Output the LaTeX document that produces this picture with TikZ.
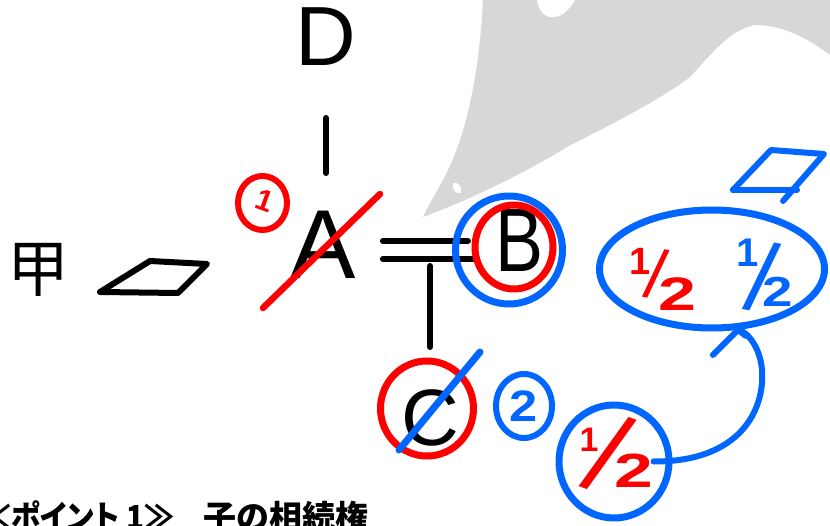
\documentclass[tikz,border=0pt]{standalone}
\usepackage{fontspec}
\setmainfont{Liberation Sans}
\newfontfamily\cjk{Noto Sans CJK JP}
\newfontfamily\cjkp{Noto Sans CJK JP}[RawFeature=+palt]
\usepackage{graphicx}
\usetikzlibrary{arrows.meta,shapes.geometric,calc}
\definecolor{penred}{RGB}{255,0,0}
\definecolor{penblue}{RGB}{0,102,255}
\definecolor{silhouette}{RGB}{217,215,214}
\begin{document}
\begin{tikzpicture}[x=1pt,y=-1pt,line cap=round,line join=round,
  ink/.style={line width=6pt,draw=black},
  redpen/.style={line width=7pt,draw=penred},
  bluepen/.style={line width=7pt,draw=penblue},
  letter/.style={inner sep=0pt,font=\fontsize{#1}{#1}\selectfont},
  bletter/.style={inner sep=0pt,font=\bfseries\fontsize{#1}{#1}\selectfont},
  ring/.style={ellipse,inner sep=0pt,fill=none}]
\useasboundingbox (0,0) rectangle (830,526);
\fill[white] (0,0) rectangle (830,526);
% grey background silhouette
\fill[silhouette] (483,0) .. controls (480,60) and (470,130) .. (443,180)
  .. controls (432,200) and (425,212) .. (423,217)
  .. controls (470,200) and (530,170) .. (567,147)
  .. controls (610,125) and (660,100) .. (690,77)
  .. controls (715,50) and (730,30) .. (755,25)
  .. controls (785,25) and (810,40) .. (830,55) -- (830,0) -- cycle;
\fill[white] (537,0) .. controls (540,22) and (562,24) .. (575,0) -- cycle;
\fill[white,rotate around={35:(457,188)}] (457,188) ellipse [x radius=3.5,y radius=6];
% people
\node[inner sep=0pt,font=\cjk\fontsize{62}{62}\selectfont] (Kou) at (38,270) {甲};
\node[letter=84] (D) at (326,37) {D};
\node[letter=98] (A) at (323,245) {A};
\node[letter=90] (B) at (520,241) {\scalebox{0.8}[1]{B}};
\node[letter=80] (C) at (430,418) {C};
% blank box next to 甲
\draw[ink] (100,292) -- (150,261) -- (207,264) -- (178,293) -- cycle;
% lines of the family tree
\draw[ink] (D.south |- 0,118) -- (D.south |- 0,173);
\coordinate (marry) at (430,259);
\draw[ink] ($(A.east)+(27,-4)$) -- ($(A.east)+(112,-4)$);
\draw[ink] ($(A.east)+(27,14)$) -- ($(A.east)+(117,14)$);
\draw[ink] ($(marry)+(0,7)$) -- (marry |- 0,347);
% circles and marks
\node[ring,redpen,minimum width=78pt,minimum height=84pt] (Bred) at (514,247) {};
\node[ring,bluepen,minimum width=107pt,minimum height=108pt] (Bblue) at (509,250) {};
\node[ring,redpen,minimum width=93pt,minimum height=95pt] (Cred) at (427,408.5) {};
\draw[bluepen] (399,450) -- (480,352);
\draw[redpen,line width=6.5pt] (263,308) -- (380,194);
\node[ring,redpen,line width=6pt,minimum width=49pt,minimum height=54pt] (One) at (262.5,203) {};
\node[bletter=30,text=penred,rotate=-20] at (265,201) {1};
\node[ring,bluepen,line width=6pt,minimum width=56pt,minimum height=64pt] (Two) at (524,406) {};
\node[bletter=44,text=penblue] at (Two) {\scalebox{1.15}[1]{2}};
% shares
\node[ring,bluepen,minimum width=225pt,minimum height=118pt] (Ell) at (712,269) {};
\begin{scope}[text=penred]
  \node[bletter=38] (Hr1) at (640.5,261.5) {1};
  \node[letter=69,rotate=-10] (Hrs) at (656,274) {/};
  \node[bletter=47] (Hr2) at (677,294.5) {\scalebox{1.45}[1]{2}};
\end{scope}
\begin{scope}[text=penblue]
  \node[bletter=40] (Hb1) at (747.5,252.5) {1};
  \node[letter=97,rotate=-10.5] (Hbs) at (762,276.5) {/};
  \node[bletter=42] (Hb2) at (778,292) {\scalebox{1.3}[1]{2}};
\end{scope}
\node[ring,bluepen,minimum width=110pt,minimum height=113pt] (Hc) at (614,461.5) {};
\begin{scope}[text=penred]
  \node[bletter=34] (Hc1) at (589,440) {1};
  \node[letter=112,rotate=-20.5] (Hcs) at (608,453.5) {/};
  \node[bletter=48] (Hc2) at (634,470.5) {\scalebox{1.45}[1]{2}};
\end{scope}
\draw[bluepen,line width=6pt] (733,190) -- (771,150) -- (824,154) -- (783,201);
\draw[bluepen,line width=6pt] (733,190) -- (797,190);
% inheritance passes from the lower share up to the pair of shares
\draw[bluepen,line width=6pt]
  ([xshift=-19pt]Hc.east) .. controls (740,462) and (765,410) .. (762,370)
  .. controls (760,345) and (745,330) .. (Ell.-67);
\draw[bluepen,line width=6pt] ($(Ell.-67)+(-25,25)$) -- (Ell.-67) -- ($(Ell.-67)+(8,6)$);
% caption
\node[anchor=base east,inner sep=0pt,font=\cjkp\bfseries\fontsize{33}{33}\selectfont] (title) at (174,529) {\scalebox{0.9}[1]{≪ポイント 1≫}};
\node[anchor=base west,inner sep=0pt,font=\cjk\bfseries\fontsize{33}{33}\selectfont] (title2) at (title.base east) {\hspace{29pt}子の相続権};
\end{tikzpicture}
\end{document}
